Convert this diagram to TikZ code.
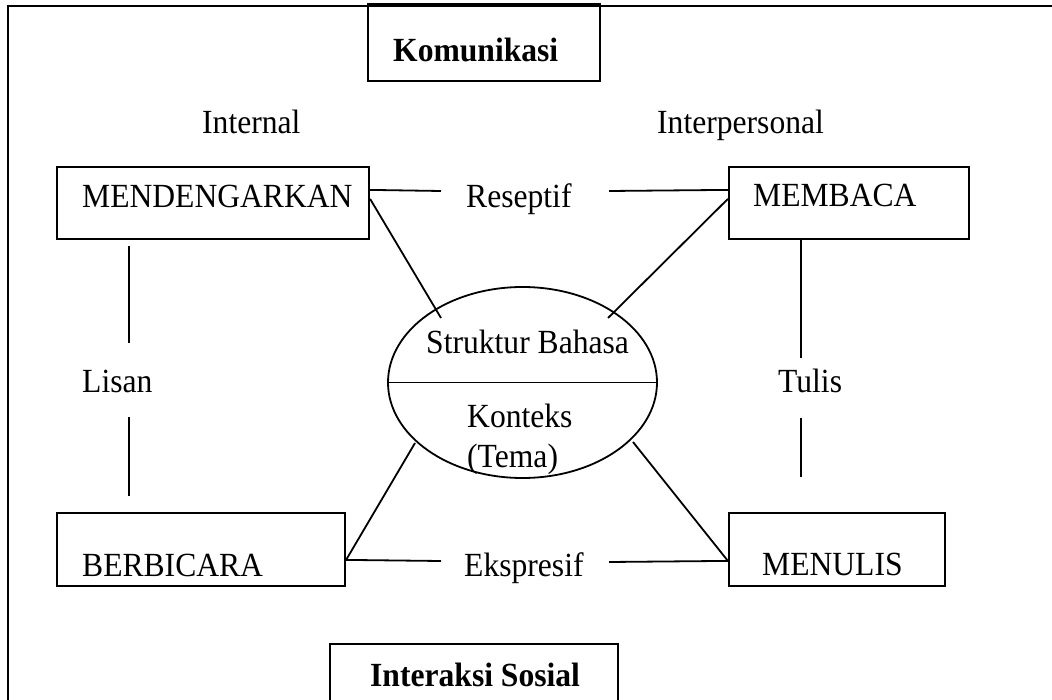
\documentclass[tikz,border=0pt]{standalone}
\usepackage{graphicx}
\usepackage{fontspec}
\setmainfont{Liberation Serif}
\usetikzlibrary{shapes.geometric}
\newcommand\vtxt[1]{\scalebox{1}[1.07]{#1}}
\tikzset{
  boxnode/.style={draw, line width=2.2bp, rectangle, inner sep=0pt},
  lbl/.style={anchor=base west, inner sep=0pt, font=\fontsize{31.6bp}{40bp}\selectfont},
  blbl/.style={lbl, font=\fontsize{31.6bp}{40bp}\selectfont\bfseries},
  conn/.style={line width=1.8bp}
}
\begin{document}
\begin{tikzpicture}[x=1bp,y=-1bp]
\useasboundingbox (0,0) rectangle (1052,700);
\clip (0,0) rectangle (1052,700);
% outer frame (cut by the page on right and bottom)
\draw[line width=2.2bp] (1070,6) -- (8,6) -- (8,720);
% boxes
\node[boxnode, minimum width=232bp, minimum height=77bp] (kom) at (484,42.5) {};
\node[boxnode, minimum width=312bp, minimum height=72bp] (mend) at (213,203) {};
\node[boxnode, minimum width=240bp, minimum height=72bp] (memb) at (849,203) {};
\node[boxnode, minimum width=288bp, minimum height=73bp] (berb) at (201,549.5) {};
\node[boxnode, minimum width=216bp, minimum height=73bp] (menu) at (837,549.5) {};
\node[boxnode, minimum width=288bp, minimum height=112bp] (inter) at (474,700) {};
\node[draw, ellipse, line width=1.8bp, inner sep=0pt, minimum width=269bp, minimum height=191bp] (ell) at (522.5,382.5) {};
% texts
\node[blbl] (tkom) at (393,62) {\vtxt{Komunikasi}};
\node[lbl] (tint) at (202,134) {\vtxt{Internal}};
\node[lbl] (tinp) at (657,134) {\vtxt{Interpersonal}};
\node[lbl] (tmend) at (82,207.5) {\vtxt{MENDENGARKAN}};
\node[lbl] (tres) at (466,208) {\vtxt{Reseptif}};
\node[lbl] (tmemb) at (753,207) {\vtxt{MEMBACA}};
\node[lbl] (tlis) at (82,392) {\vtxt{Lisan}};
\node[lbl] (ttul) at (778,392) {\vtxt{Tulis}};
\node[lbl] (tstr) at (426,353) {\vtxt{Struktur Bahasa}};
\node[lbl] (tkon) at (467,427) {\vtxt{Konteks}};
\node[lbl] (ttem) at (467,467) {\vtxt{(Tema)}};
\node[lbl] (tberb) at (82,576) {\vtxt{BERBICARA}};
\node[lbl] (teks) at (464,576) {\vtxt{Ekspresif}};
\node[lbl] (tmenu) at (762,575) {\vtxt{MENULIS}};
\node[blbl] (tinter) at (370,686) {\vtxt{Interaksi Sosial}};
% free ends
\coordinate (resL) at (441,191);
\coordinate (resR) at (609,191);
\coordinate (eksL) at (441,561);
\coordinate (eksR) at (609,562);
\coordinate (d1) at (441,318);
\coordinate (d2) at (608,318);
\coordinate (d3) at (415,443);
\coordinate (d4) at (633,442);
\coordinate (lisA) at (129,246);
\coordinate (lisB) at (129,343);
\coordinate (lisC) at (129,417);
\coordinate (lisD) at (129,496);
\coordinate (tulA) at (801,239);
\coordinate (tulB) at (801,358);
\coordinate (tulC) at (801,418);
\coordinate (tulD) at (801,477);
% connectors
\draw[conn] ([yshift=-24bp]mend.north east) -- (resL);
\draw[conn] (resR) -- ([yshift=-24bp]memb.north west);
\draw[conn] ([yshift=-48bp]berb.north east) -- (eksL);
\draw[conn] (eksR) -- ([yshift=-49bp]menu.north west);
\draw[conn] ([yshift=-33bp]mend.north east) -- (d1);
\draw[conn] ([yshift=-33bp]memb.north west) -- (d2);
\draw[conn] ([yshift=-48bp]berb.north east) -- (d3);
\draw[conn] ([yshift=-49bp]menu.north west) -- (d4);
\draw[conn] (lisA) -- (lisB);
\draw[conn] (lisC) -- (lisD);
\draw[conn] (tulA) -- (tulB);
\draw[conn] (tulC) -- (tulD);
\draw[conn] (ell.west) -- (ell.east);
\end{tikzpicture}
\end{document}
